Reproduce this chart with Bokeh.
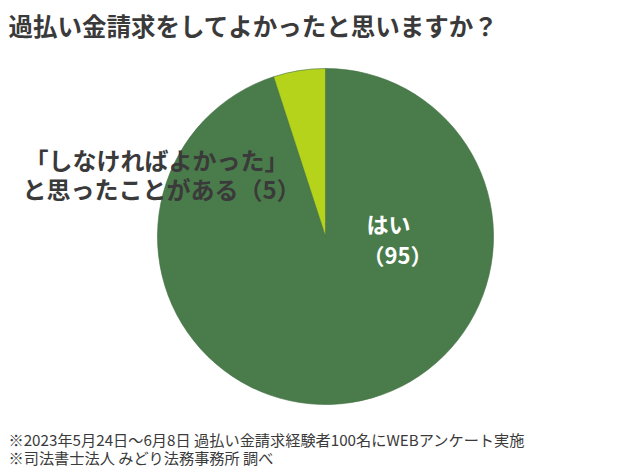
import math
from bokeh.plotting import figure
from bokeh.models import ColumnDataSource
from bokeh.core.properties import value
from bokeh.embed import file_html
from bokeh.resources import INLINE

title = "過払い金請求をしてよかったと思いますか？"
categories = ["はい", "「しなければよかった」と思ったことがある"]
values = [95, 5]
colors = ["#4a7c4b", "#b6d31b"]
notes = ["※2023年5月24日～6月8日 過払い金請求経験者100名にWEBアンケート実施",
         "※司法書士法人 みどり法務事務所 調べ"]

W, H = 640, 470
FONT = value("Noto Sans CJK JP")

total = sum(values)
starts, ends = [], []
cum = 0
for v in values:
    starts.append(math.pi / 2 - 2 * math.pi * cum / total)
    cum += v
    ends.append(math.pi / 2 - 2 * math.pi * cum / total)

src = ColumnDataSource(dict(cat=categories, val=values, start=starts, end=ends, color=colors))

p = figure(width=W, height=H, x_range=(0, W), y_range=(H, 0),
           output_backend="svg", toolbar_location=None, min_border=0)
p.axis.visible = False
p.grid.visible = False
p.outline_line_color = None
p.background_fill_color = "white"

cx, cy, r = 325, 236, 168
p.wedge(x=cx, y=cy, radius=r, start_angle="start", end_angle="end",
        direction="clock", fill_color="color", line_color="#3f6d40",
        line_width=0.6, source=src)

# title
p.text(x=[8], y=[25], text=[title], text_font=FONT, text_font_size="24.5px",
       text_font_style="bold", text_color="#3a3a3a", text_baseline="middle")

# labels
lab_small = [f"「しなければよかった」", f"と思ったことがある（{values[1]}）"]
p.text(x=[156, 161], y=[159, 188], text=lab_small, text_font=FONT,
       text_font_size="24px", text_font_style="bold", text_color="#3a3a3a",
       text_align="center", text_baseline="middle")
p.text(x=[366, 362], y=[222, 253], text=[categories[0], f"（{values[0]}）"],
       text_font=FONT, text_font_size="22px", text_font_style="bold",
       text_color="white", text_align="left", text_baseline="middle")

# notes
p.text(x=[8, 8], y=[438, 456], text=notes, text_font=FONT,
       text_font_size="15.2px", text_color="#3a3a3a", text_baseline="middle")

open("out.html", "w").write(file_html(p, INLINE))
